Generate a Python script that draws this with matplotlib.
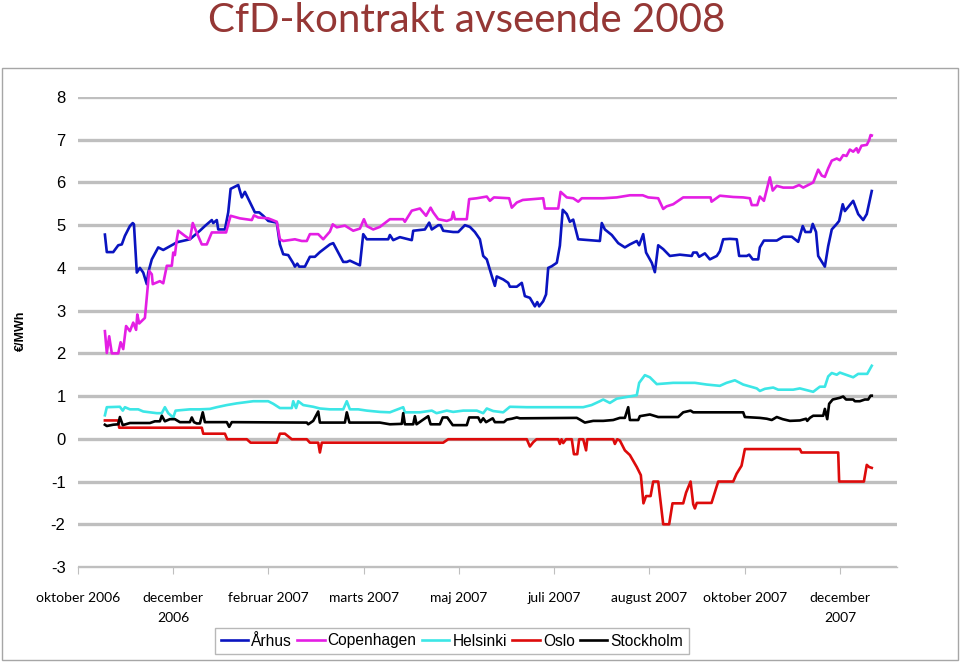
import matplotlib.pyplot as plt
from matplotlib.patches import Rectangle

plt.rcParams["axes.unicode_minus"] = False

# x = trading-day index since start of window (40 days between axis labels)
tick_pos = [0, 40, 80, 120, 160, 200, 240, 280, 320]
tick_labels = ["oktober 2006", "december\n2006", "februar 2007", "marts 2007", "maj 2007",
               "juli 2007", "august 2007", "oktober 2007", "december\n2007"]

aarhus_x = [11.3, 12.1, 14.8, 16.9, 18.4, 19.7, 21.8, 23.0, 23.5, 24.7, 26.0, 27.4, 28.9, 29.5,
            31.0, 33.7, 35.8, 40.0, 41.5, 47.0, 51.2, 53.3, 56.2, 56.8, 58.3, 58.9, 61.7, 63.1,
            64.1, 67.3, 68.8, 70.1, 74.3, 76.1, 77.8, 79.9, 83.5, 84.8, 86.2, 88.3, 90.4, 91.1,
            92.1, 92.9, 95.3, 97.4, 99.5, 101.6, 105.8, 107.2, 109.3, 111.4, 112.9, 114.2, 118.4,
            119.8, 121.3, 126.8, 130.3, 131.0, 132.4, 135.2, 140.2, 140.8, 145.7, 147.5, 148.6,
            151.3, 152.3, 153.4, 157.6, 159.7, 162.5, 164.6, 166.7, 168.8, 170.2, 171.7, 173.8,
            175.1, 175.9, 178.6, 180.7, 181.4, 184.3, 186.4, 187.7, 189.8, 191.9, 192.9, 193.7,
            195.4, 196.6, 197.5, 199.0, 201.1, 202.4, 203.6, 205.3, 206.6, 208.0, 210.1, 219.2,
            220.0, 221.3, 224.2, 226.9, 229.7, 231.8, 234.7, 235.7, 237.4, 238.6, 241.0, 242.3,
            243.7, 245.8, 248.6, 252.8, 257.8, 258.4, 259.9, 260.9, 263.3, 265.4, 268.3, 269.6,
            271.0, 273.8, 276.7, 277.7, 280.9, 281.9, 283.4, 285.7, 286.4, 288.1, 293.5, 296.2,
            299.8, 302.5, 304.4, 305.5, 307.7, 308.6, 310.0, 310.9, 313.7, 315.1, 316.6, 318.7,
            319.7, 321.2, 322.1, 325.6, 327.7, 329.8, 331.3, 333.4]
aarhus_y = [4.78, 4.37, 4.37, 4.53, 4.55, 4.75, 4.98, 5.05, 5.02, 3.89, 4.00, 3.89, 3.62, 3.89,
            4.20, 4.48, 4.42, 4.55, 4.60, 4.67, 4.87, 4.98, 5.12, 5.05, 5.12, 4.90, 4.90, 5.30,
            5.85, 5.94, 5.65, 5.78, 5.30, 5.30, 5.22, 5.10, 5.06, 4.55, 4.32, 4.30, 4.11, 4.03,
            4.10, 4.03, 4.03, 4.26, 4.26, 4.37, 4.55, 4.58, 4.36, 4.14, 4.14, 4.17, 4.06,
            4.79, 4.67, 4.67, 4.67, 4.77, 4.65, 4.72, 4.65, 4.87, 4.90, 5.06, 4.90,
            5.00, 5.00, 4.87, 4.84, 4.84, 5.00, 4.96, 4.84, 4.67, 4.28, 4.20, 3.81,
            3.58, 3.80, 3.73, 3.65, 3.56, 3.56, 3.65, 3.34, 3.30, 3.10, 3.20, 3.10,
            3.22, 3.38, 4.00, 4.04, 4.12, 4.52, 5.36, 5.26, 5.08, 5.13, 4.67, 4.63,
            5.05, 4.90, 4.77, 4.58, 4.48, 4.55, 4.63, 4.53, 4.79, 4.36, 4.12, 3.90,
            4.53, 4.44, 4.28, 4.31, 4.28, 4.36, 4.36, 4.26, 4.34, 4.20, 4.28, 4.39,
            4.67, 4.68, 4.67, 4.28, 4.28, 4.31, 4.20, 4.20, 4.48, 4.64, 4.64, 4.73,
            4.73, 4.61, 4.98, 4.84, 4.84, 5.03, 4.84, 4.28, 4.03, 4.51, 4.90, 5.03,
            5.10, 5.49, 5.33, 5.57, 5.26, 5.12, 5.26, 5.80]

copen_x = [11.3, 12.1, 13.1, 14.2, 16.9, 17.9, 19.0, 20.2, 21.8, 23.2, 24.4, 24.9, 25.7, 28.1,
           29.9, 31.0, 31.4, 33.1, 34.4, 35.8, 37.3, 39.4, 40.0, 40.7, 41.5, 42.1, 44.9, 47.0,
           48.2, 49.9, 52.0, 54.1, 56.2, 62.2, 63.1, 64.1, 68.0, 73.0, 73.9, 75.7, 79.9, 83.5,
           84.8, 86.2, 91.1, 94.0, 96.1, 97.4, 100.9, 103.0, 105.8, 107.0, 108.7, 112.1, 115.6,
           118.4, 120.1, 121.3, 124.0, 126.8, 131.0, 136.6, 137.3, 140.2, 143.6, 146.2, 148.1,
           149.2, 151.3, 154.9, 156.9, 157.6, 158.3, 163.3, 164.3, 167.5, 171.7, 173.0, 174.7,
           181.1, 182.2, 184.3, 186.8, 195.4, 196.1, 201.7, 202.7, 205.3, 208.0, 210.1, 211.6,
           220.6, 226.3, 231.8, 237.2, 239.5, 243.7, 245.8, 247.2, 250.0, 254.2, 265.7, 266.1,
           269.6, 275.2, 279.4, 282.2, 283.0, 285.3, 286.4, 288.1, 290.6, 291.8, 293.5, 296.2,
           300.4, 302.9, 304.6, 308.8, 309.5, 310.9, 312.4, 313.7, 315.1, 316.6, 318.7, 320.0,
           321.4, 322.8, 324.2, 325.6, 327.0, 327.7, 329.1, 331.3, 332.3, 332.9, 333.4]
copen_y = [2.52, 2.01, 2.40, 2.00, 2.00, 2.26, 2.10, 2.64, 2.52, 2.72, 2.55, 2.91, 2.70, 2.83,
           3.93, 3.85, 3.62, 3.66, 3.69, 3.64, 4.05, 4.05, 4.36, 4.30, 4.67, 4.87, 4.75, 4.67,
           5.05, 4.82, 4.55, 4.55, 4.83, 4.83, 5.02, 5.22, 5.16, 5.12, 5.23, 5.18, 5.16, 5.08,
           4.67, 4.63, 4.67, 4.63, 4.63, 4.79, 4.79, 4.67, 4.85, 5.02, 4.95, 4.99, 4.87,
           4.92, 5.14, 4.98, 4.90, 4.96, 5.14, 5.14, 5.08, 5.34, 5.39, 5.22, 5.41,
           5.30, 5.14, 5.10, 5.14, 5.31, 5.14, 5.14, 5.61, 5.63, 5.67, 5.57, 5.65,
           5.63, 5.41, 5.53, 5.59, 5.63, 5.39, 5.39, 5.78, 5.65, 5.63, 5.55, 5.63,
           5.63, 5.65, 5.70, 5.70, 5.65, 5.63, 5.38, 5.44, 5.49, 5.65, 5.65, 5.55,
           5.69, 5.66, 5.65, 5.63, 5.47, 5.47, 5.67, 5.57, 6.12, 5.81, 5.92, 5.88,
           5.88, 5.94, 5.88, 6.00, 6.10, 6.30, 6.16, 6.13, 6.33, 6.51, 6.56, 6.52,
           6.64, 6.62, 6.77, 6.72, 6.80, 6.70, 6.86, 6.88, 6.99, 7.11, 7.10]

hel_x = [11.3, 12.1, 17.6, 18.8, 19.7, 21.8, 25.3, 27.4, 33.1, 35.2, 36.5, 37.9, 40.0, 41.0,
         47.0, 51.2, 55.4, 58.3, 62.5, 66.7, 73.6, 79.9, 82.0, 84.8, 89.8, 90.4, 91.6, 92.5,
         94.6, 98.8, 101.6, 105.8, 111.4, 112.9, 114.2, 117.7, 121.3, 126.8, 131.0, 136.6,
         137.3, 143.6, 148.6, 150.6, 154.9, 157.6, 161.8, 167.5, 170.2, 171.7, 174.4, 178.6,
         181.4, 188.5, 212.2, 215.7, 219.2, 220.6, 223.4, 226.3, 230.5, 234.7, 235.7, 238.1,
         240.2, 243.1, 250.0, 259.1, 264.1, 269.6, 272.4, 275.9, 279.4, 285.1, 286.4, 288.5,
         292.0, 294.1, 300.4, 303.2, 305.3, 308.8, 311.6, 313.7, 315.1, 316.6, 318.7, 320.0,
         325.6, 327.7, 331.5, 333.4]
hel_y = [0.55, 0.74, 0.75, 0.66, 0.74, 0.69, 0.69, 0.64, 0.60, 0.60, 0.74, 0.60, 0.50, 0.66,
         0.69, 0.69, 0.70, 0.74, 0.79, 0.83, 0.88, 0.88, 0.82, 0.72, 0.72, 0.88, 0.72, 0.88,
         0.79, 0.75, 0.71, 0.69, 0.69, 0.88, 0.69, 0.69, 0.66, 0.63, 0.62, 0.74,
         0.62, 0.62, 0.66, 0.60, 0.66, 0.63, 0.66, 0.66, 0.60, 0.71, 0.65, 0.62,
         0.75, 0.74, 0.74, 0.79, 0.88, 0.92, 0.84, 0.94, 0.98, 1.02, 1.31, 1.49,
         1.44, 1.28, 1.31, 1.31, 1.27, 1.24, 1.31, 1.37, 1.27, 1.18, 1.12, 1.17,
         1.20, 1.15, 1.15, 1.18, 1.15, 1.10, 1.22, 1.22, 1.46, 1.54, 1.50, 1.55,
         1.44, 1.52, 1.52, 1.71]

oslo_x = [11.3, 16.9, 17.3, 52.0, 52.6, 61.7, 62.7, 70.9, 72.5, 83.5, 84.8, 86.9, 89.8, 96.1,
          97.4, 100.9, 101.6, 102.4, 153.4, 155.5, 188.5, 189.8, 191.2, 192.6, 201.7, 202.4,
          203.1, 203.8, 205.0, 207.4, 208.3, 209.7, 210.5, 212.2, 213.4, 213.9, 224.8, 225.5,
          226.5, 227.6, 229.7, 231.8, 234.7, 236.4, 237.5, 238.6, 240.5, 241.6, 243.7, 245.8,
          248.3, 249.7, 254.2, 255.4, 257.3, 258.4, 259.1, 259.9, 266.1, 268.9, 275.2, 276.6,
          278.7, 280.1, 303.2, 303.9, 319.3, 319.7, 330.1, 331.3, 332.3, 333.4]
oslo_y = [0.43, 0.43, 0.26, 0.26, 0.12, 0.12, -0.01, -0.01, -0.09, -0.09, 0.12, 0.12, -0.01, -0.01,
          -0.09, -0.09, -0.32, -0.09, -0.09, -0.01, -0.01, -0.18, -0.08, -0.01, -0.01, -0.12,
          -0.01, -0.10, -0.01, -0.01, -0.36, -0.36, -0.01, -0.01, -0.27, -0.01, -0.01, -0.12,
          -0.01, -0.04, -0.27, -0.38, -0.66, -0.85, -1.51, -1.34, -1.34, -1.00, -1.00, -2.00,
          -2.00, -1.51, -1.51, -1.26, -1.00, -1.53, -1.63, -1.50, -1.50, -1.00, -1.00, -0.82,
          -0.63, -0.24, -0.24, -0.32, -0.32, -1.00, -1.00, -0.61, -0.66, -0.68]

sthlm_x = [11.3, 12.1, 14.8, 16.9, 17.6, 18.8, 21.8, 30.2, 32.3, 34.4, 35.2, 36.5, 38.6, 40.7,
           42.8, 47.0, 47.8, 48.7, 49.9, 51.2, 52.4, 53.3, 62.5, 63.5, 64.6, 96.1, 96.7, 98.8,
           100.9, 101.6, 112.1, 112.9, 114.0, 126.8, 131.0, 136.0, 136.6, 137.3, 140.8, 141.5,
           142.2, 145.0, 147.1, 148.1, 152.0, 153.2, 155.1, 157.4, 163.3, 164.3, 168.1, 169.1,
           170.2, 171.4, 174.2, 175.1, 178.9, 180.1, 182.2, 184.3, 185.6, 209.5, 210.8, 212.9,
           216.4, 220.6, 224.8, 227.6, 229.7, 231.1, 231.8, 235.3, 236.0, 240.2, 243.7, 252.1,
           254.2, 257.3, 258.4, 269.6, 279.4, 280.1, 286.4, 289.3, 291.4, 293.5, 296.0, 299.0,
           303.2, 305.8, 306.3, 307.4, 308.8, 313.0, 313.7, 314.7, 315.5, 317.0, 320.0, 321.4,
           322.6, 325.6, 326.3, 328.4, 330.5, 331.9, 332.9, 333.4]
sthlm_y = [0.33, 0.30, 0.33, 0.34, 0.51, 0.32, 0.37, 0.37, 0.41, 0.41, 0.54, 0.41, 0.46, 0.46,
           0.39, 0.39, 0.50, 0.39, 0.36, 0.36, 0.62, 0.39, 0.39, 0.28, 0.39, 0.38, 0.34, 0.42,
           0.64, 0.38, 0.38, 0.62, 0.38, 0.38, 0.34, 0.35, 0.60, 0.34, 0.34, 0.53,
           0.34, 0.45, 0.53, 0.34, 0.34, 0.50, 0.50, 0.32, 0.32, 0.50, 0.50, 0.39,
           0.48, 0.39, 0.48, 0.39, 0.39, 0.45, 0.47, 0.50, 0.48, 0.49, 0.45, 0.38,
           0.42, 0.42, 0.44, 0.49, 0.49, 0.74, 0.44, 0.44, 0.53, 0.57, 0.51, 0.51,
           0.62, 0.66, 0.62, 0.62, 0.62, 0.51, 0.49, 0.47, 0.44, 0.51, 0.46, 0.42,
           0.43, 0.47, 0.42, 0.49, 0.54, 0.54, 0.70, 0.46, 0.82, 0.92, 0.96, 0.99,
           0.92, 0.92, 0.88, 0.88, 0.92, 0.92, 1.01, 1.01]

series = [
    ("Århus", aarhus_x, aarhus_y, "#0A14C0"),
    ("Copenhagen", copen_x, copen_y, "#E41EE4"),
    ("Helsinki", hel_x, hel_y, "#3CE6E6"),
    ("Oslo", oslo_x, oslo_y, "#DD0B0B"),
    ("Stockholm", sthlm_x, sthlm_y, "#000000"),
]

fig = plt.figure(figsize=(9.6, 6.62), dpi=100)
ax = fig.add_axes([78 / 960, 1 - 567 / 662, (897 - 78) / 960, (567 - 97) / 662])

# outer chart frame
fig.patches.append(Rectangle((2 / 960, 2 / 662), 956 / 960, 592 / 662, transform=fig.transFigure,
                             fill=False, edgecolor="#A6A6A6", linewidth=1))

for name, xs, ys, col in series:
    ax.plot(xs, ys, color=col, linewidth=1.9, label=name, solid_joinstyle="round")

ax.set_xlim(0, 344)
ax.set_ylim(-3, 8)
ax.set_yticks(range(-3, 9))
ax.yaxis.grid(True, color="#BFBFBF", linewidth=2.4)
ax.set_axisbelow(True)
for s in ["top", "right", "left"]:
    ax.spines[s].set_visible(False)
ax.spines["bottom"].set_color("#BFBFBF")
ax.spines["bottom"].set_linewidth(1)
ax.tick_params(axis="y", length=0, pad=9, labelsize=12)
for lab in ax.get_yticklabels():
    lab.set_fontfamily("Liberation Sans")

ax.set_xticks(tick_pos)
ax.set_xticklabels(tick_labels, fontfamily="Lato", fontsize=10, linespacing=1.8, va="top")
ax.tick_params(axis="x", length=5, color="#BFBFBF", pad=13)

fig.text(467 / 960, 1 - 21 / 662, "CfD-kontrakt avseende 2008", ha="center", va="center",
         fontsize=29, color="#953735", fontfamily="Lato")
fig.text(21 / 960, 1 - 331 / 662, "€/MWh", rotation=90, ha="center", va="center",
         fontsize=9, fontweight="bold", fontfamily="Liberation Sans")

leg = fig.legend(loc="center", bbox_to_anchor=(452 / 960, 1 - 641 / 662), ncol=5,
                 frameon=True, fancybox=False, edgecolor="#A6A6A6", handlelength=1.75,
                 handletextpad=0.2, columnspacing=0.35, borderpad=0.35, borderaxespad=0,
                 prop={"family": "Liberation Sans", "size": 11.2})
leg.get_frame().set_linewidth(1)

fig.savefig("out.png", dpi=100)
